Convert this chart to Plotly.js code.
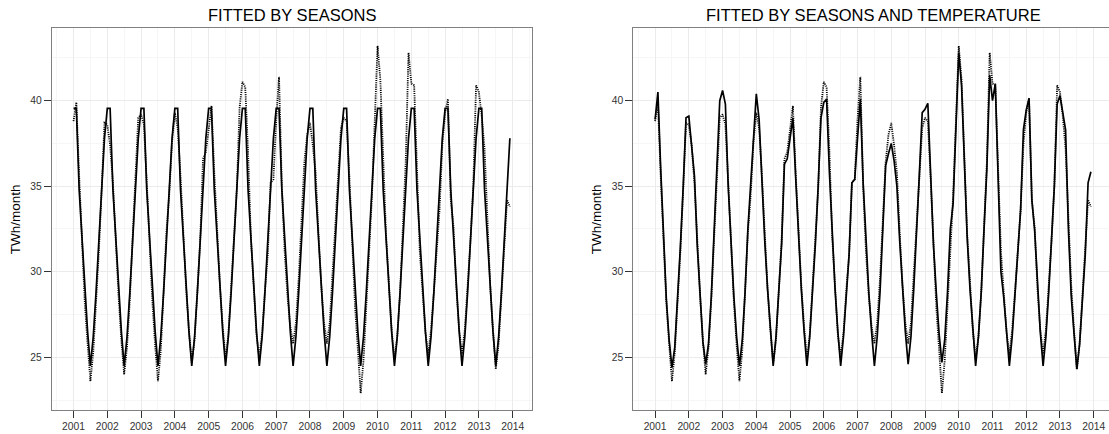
<!DOCTYPE html>
<html>
<head>
<meta charset="utf-8">
<script src="https://cdn.plot.ly/plotly-3.0.1.min.js"></script>
<style>
  html, body { margin: 0; padding: 0; background: #ffffff; overflow: hidden; }
  #chart { width: 1120px; height: 434px; }
</style>
</head>
<body>
<div id="chart"></div>
<script>
// Monthly electricity consumption (TWh/month), Jan 2001 - Dec 2013
const years = [2001, 2002, 2003, 2004, 2005, 2006, 2007, 2008, 2009, 2010, 2011, 2012, 2013];
const yearTicks = [2001, 2002, 2003, 2004, 2005, 2006, 2007, 2008, 2009, 2010, 2011, 2012, 2013, 2014];

// Observed consumption, one row per year (Jan..Dec)
const observed = [
  38.8, 39.9, 35.6, 31.6, 28.2, 25.8, 23.6, 25.3, 28.2, 31.2, 34.8, 38.7,
  38.6, 37.4, 35.2, 31.8, 28.6, 26.0, 24.0, 25.6, 28.4, 32.0, 35.8, 39.0,
  39.2, 38.6, 35.3, 31.6, 28.3, 25.7, 23.6, 25.4, 28.7, 32.3, 34.5, 37.6,
  39.3, 38.4, 35.6, 32.0, 29.0, 26.6, 24.7, 26.0, 28.9, 31.8, 36.6, 37.0,
  38.3, 39.7, 35.8, 32.2, 29.2, 26.8, 24.9, 26.3, 29.0, 31.5, 34.8, 39.6,
  41.1, 40.8, 37.0, 32.0, 29.0, 26.3, 25.0, 26.4, 28.9, 31.0, 35.2, 35.4,
  38.9, 41.4, 35.0, 31.2, 28.6, 26.8, 25.8, 27.0, 29.6, 33.0, 36.4, 38.0,
  38.7, 37.4, 35.8, 32.3, 29.2, 27.0, 25.8, 27.0, 29.8, 32.6, 35.4, 38.4,
  39.0, 38.8, 35.5, 31.3, 28.0, 25.5, 22.9, 24.8, 28.0, 31.8, 34.4, 38.8,
  43.2, 41.2, 37.0, 32.2, 29.4, 26.6, 24.9, 26.2, 28.8, 32.4, 36.4, 42.8,
  41.0, 40.9, 35.6, 31.2, 28.8, 26.5, 25.1, 26.6, 28.8, 31.0, 33.6, 37.4,
  39.3, 40.1, 34.2, 32.6, 29.0, 26.6, 25.2, 26.6, 29.0, 31.8, 35.0, 40.9,
  40.5, 39.1, 37.2, 32.8, 29.2, 26.6, 24.3, 25.8, 28.6, 31.4, 34.2, 33.8
];

// Fitted values, month-of-year model
const fitSeasons = [
  39.55, 39.55, 34.8, 32.0, 29.0, 26.5, 24.5, 26.2, 28.8, 31.6, 34.6, 37.8,
  39.55, 39.55, 34.8, 32.0, 29.0, 26.5, 24.5, 26.2, 28.8, 31.6, 34.6, 37.8,
  39.55, 39.55, 34.8, 32.0, 29.0, 26.5, 24.5, 26.2, 28.8, 31.6, 34.6, 37.8,
  39.55, 39.55, 34.8, 32.0, 29.0, 26.5, 24.5, 26.2, 28.8, 31.6, 34.6, 37.8,
  39.55, 39.55, 34.8, 32.0, 29.0, 26.5, 24.5, 26.2, 28.8, 31.6, 34.6, 37.8,
  39.55, 39.55, 34.8, 32.0, 29.0, 26.5, 24.5, 26.2, 28.8, 31.6, 34.6, 37.8,
  39.55, 39.55, 34.8, 32.0, 29.0, 26.5, 24.5, 26.2, 28.8, 31.6, 34.6, 37.8,
  39.55, 39.55, 34.8, 32.0, 29.0, 26.5, 24.5, 26.2, 28.8, 31.6, 34.6, 37.8,
  39.55, 39.55, 34.8, 32.0, 29.0, 26.5, 24.5, 26.2, 28.8, 31.6, 34.6, 37.8,
  39.55, 39.55, 34.8, 32.0, 29.0, 26.5, 24.5, 26.2, 28.8, 31.6, 34.6, 37.8,
  39.55, 39.55, 34.8, 32.0, 29.0, 26.5, 24.5, 26.2, 28.8, 31.6, 34.6, 37.8,
  39.55, 39.55, 34.8, 32.0, 29.0, 26.5, 24.5, 26.2, 28.8, 31.6, 34.6, 37.8,
  39.55, 39.55, 34.8, 32.0, 29.0, 26.5, 24.5, 26.2, 28.8, 31.6, 34.6, 37.8
];

// Fitted values, month-of-year plus temperature model
const fitSeasonsTemp = [
  38.9, 40.5, 36.0, 31.8, 28.4, 26.0, 24.4, 25.6, 28.4, 31.5, 35.0, 39.0,
  39.1, 37.3, 35.6, 31.5, 28.4, 25.9, 24.6, 25.8, 28.6, 32.2, 36.2, 40.0,
  40.6, 39.8, 35.0, 31.4, 28.6, 26.2, 24.5, 26.0, 28.8, 32.5, 35.3, 38.2,
  40.4, 38.9, 35.2, 31.8, 29.0, 26.5, 24.5, 26.2, 28.8, 31.6, 36.3, 36.6,
  37.8, 39.0, 35.5, 32.0, 29.0, 26.5, 24.5, 26.2, 28.8, 31.6, 35.0, 39.0,
  39.9, 40.1, 35.8, 32.0, 29.0, 26.5, 24.5, 26.2, 28.8, 31.0, 35.2, 35.4,
  37.8, 40.1, 35.2, 31.6, 28.8, 26.5, 24.5, 26.2, 28.8, 32.5, 36.2, 36.9,
  37.5, 36.5, 35.0, 31.8, 29.0, 26.5, 24.6, 26.2, 29.0, 32.0, 35.75, 39.3,
  39.5, 39.85, 35.5, 31.6, 28.8, 26.4, 24.7, 26.0, 28.8, 32.5, 34.0, 38.5,
  42.8, 40.9, 36.5, 32.0, 29.0, 26.5, 24.5, 26.2, 28.8, 32.5, 36.0, 41.5,
  40.0, 41.0, 35.8, 30.0, 28.5, 26.4, 24.5, 26.2, 28.8, 31.2, 33.6, 38.3,
  39.45, 40.15, 34.2, 32.4, 29.0, 26.5, 24.5, 26.2, 28.8, 31.6, 35.0, 39.8,
  40.3, 39.3, 38.3, 32.5, 28.6, 26.4, 24.3, 25.8, 28.5, 31.0, 35.2, 35.85
];

// Time axis in decimal years, one entry per month
const time = [];
years.forEach(y => { for (let m = 0; m < 12; m++) time.push(y + m / 12); });

const W = 1120, H = 434;
const fontFamily = 'Liberation Sans, Arial, Helvetica, sans-serif';

function traces(fit, xa, ya) {
  return [
    { x: time, y: observed, xaxis: xa, yaxis: ya, type: 'scatter', mode: 'lines',
      line: { color: '#000000', width: 1.8, dash: '1.1px,1.1px' }, hoverinfo: 'skip' },
    { x: time, y: fit, xaxis: xa, yaxis: ya, type: 'scatter', mode: 'lines',
      line: { color: '#000000', width: 1.7 }, hoverinfo: 'skip' }
  ];
}

const data = traces(fitSeasons, 'x', 'y').concat(traces(fitSeasonsTemp, 'x2', 'y2'));

const yDomain = [1 - 410 / H, 1 - 28.3 / H];
const xDomain1 = [51.7 / W, 531.7 / W];
const xDomain2 = [633.3 / W, 1112.7 / W];

function xAxis(domain, anchor) {
  return {
    domain: domain, anchor: anchor, range: [2000.354, 2014.563],
    tickmode: 'array', tickvals: yearTicks, ticktext: yearTicks.map(String),
    ticks: 'outside', ticklen: 7, tickwidth: 1, tickcolor: '#333333',
    tickfont: { family: fontFamily, size: 10.3, color: '#333333' },
    showgrid: true, gridcolor: '#ebebeb', gridwidth: 1,
    minor: { dtick: 0.5, tick0: 2000.5, showgrid: true, gridcolor: '#f6f6f6', gridwidth: 1 },
    showline: true, linecolor: '#808080', linewidth: 1, mirror: true,
    zeroline: false, fixedrange: true
  };
}
function yAxis(anchor) {
  return {
    domain: yDomain, anchor: anchor, range: [21.92, 44.23],
    tickmode: 'array', tickvals: [25, 30, 35, 40], ticktext: ['25', '30', '35', '40'],
    ticks: 'outside', ticklen: 7, tickwidth: 1, tickcolor: '#333333',
    tickfont: { family: fontFamily, size: 10.3, color: '#333333' },
    showgrid: true, gridcolor: '#ebebeb', gridwidth: 1,
    minor: { dtick: 2.5, tick0: 0, showgrid: true, gridcolor: '#f6f6f6', gridwidth: 1 },
    showline: true, linecolor: '#808080', linewidth: 1, mirror: true,
    zeroline: false, fixedrange: true
  };
}

const titleFont = { family: fontFamily, size: 16.5, color: '#000000' };
const axisTitleFont = { family: fontFamily, size: 13.5, color: '#000000' };

const layout = {
  width: W, height: H,
  margin: { l: 0, r: 0, t: 0, b: 0 },
  paper_bgcolor: '#ffffff', plot_bgcolor: '#ffffff',
  showlegend: false,
  xaxis: xAxis(xDomain1, 'y'), yaxis: yAxis('x'),
  xaxis2: xAxis(xDomain2, 'y2'), yaxis2: yAxis('x2'),
  annotations: [
    { text: 'FITTED BY SEASONS', xref: 'paper', yref: 'paper',
      x: (xDomain1[0] + xDomain1[1]) / 2, y: 1 - 15 / H, xanchor: 'center', yanchor: 'middle',
      showarrow: false, font: titleFont },
    { text: 'FITTED BY SEASONS AND TEMPERATURE', xref: 'paper', yref: 'paper',
      x: (xDomain2[0] + xDomain2[1]) / 2, y: 1 - 15 / H, xanchor: 'center', yanchor: 'middle',
      showarrow: false, font: titleFont },
    { text: 'TWh/month', xref: 'paper', yref: 'paper', textangle: -90,
      x: 15 / W, y: (yDomain[0] + yDomain[1]) / 2, xanchor: 'center', yanchor: 'middle',
      showarrow: false, font: axisTitleFont },
    { text: 'TWh/month', xref: 'paper', yref: 'paper', textangle: -90,
      x: 596 / W, y: (yDomain[0] + yDomain[1]) / 2, xanchor: 'center', yanchor: 'middle',
      showarrow: false, font: axisTitleFont }
  ]
};

Plotly.newPlot('chart', data, layout, { staticPlot: true, displayModeBar: false });
</script>
</body>
</html>
